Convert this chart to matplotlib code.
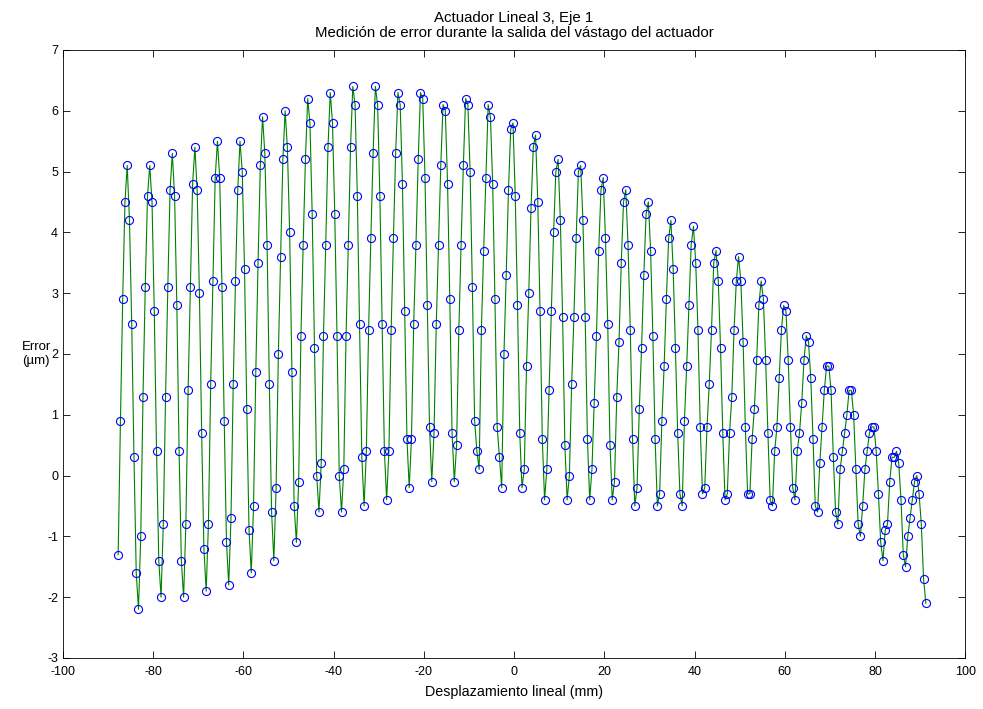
import matplotlib.pyplot as plt
import numpy as np

plt.rcParams['font.family'] = ['Liberation Sans', 'DejaVu Sans']
plt.rcParams['axes.unicode_minus'] = False

# error readings (um), one every 0.5 mm of stroke
error = [
    -1.3, 0.9, 2.9, 4.5, 5.1, 4.2, 2.5, 0.3, -1.6, -2.2,
    -1.0, 1.3, 3.1, 4.6, 5.1, 4.5, 2.7, 0.4, -1.4, -2.0,
    -0.8, 1.3, 3.1, 4.7, 5.3, 4.6, 2.8, 0.4, -1.4, -2.0,
    -0.8, 1.4, 3.1, 4.8, 5.4, 4.7, 3.0, 0.7, -1.2, -1.9,
    -0.8, 1.5, 3.2, 4.9, 5.5, 4.9, 3.1, 0.9, -1.1, -1.8,
    -0.7, 1.5, 3.2, 4.7, 5.5, 5.0, 3.4, 1.1, -0.9, -1.6,
    -0.5, 1.7, 3.5, 5.1, 5.9, 5.3, 3.8, 1.5, -0.6, -1.4,
    -0.2, 2.0, 3.6, 5.2, 6.0, 5.4, 4.0, 1.7, -0.5, -1.1,
    -0.1, 2.3, 3.8, 5.2, 6.2, 5.8, 4.3, 2.1, 0.0, -0.6,
    0.2, 2.3, 3.8, 5.4, 6.3, 5.8, 4.3, 2.3, 0.0, -0.6,
    0.1, 2.3, 3.8, 5.4, 6.4, 6.1, 4.6, 2.5, 0.3, -0.5,
    0.4, 2.4, 3.9, 5.3, 6.4, 6.1, 4.6, 2.5, 0.4, -0.4,
    0.4, 2.4, 3.9, 5.3, 6.3, 6.1, 4.8, 2.7, 0.6, -0.2,
    0.6, 2.5, 3.8, 5.2, 6.3, 6.2, 4.9, 2.8, 0.8, -0.1,
    0.7, 2.5, 3.8, 5.1, 6.1, 6.0, 4.8, 2.9, 0.7, -0.1,
    0.5, 2.4, 3.8, 5.1, 6.2, 6.1, 5.0, 3.1, 0.9, 0.4,
    0.1, 2.4, 3.7, 4.9, 6.1, 5.9, 4.8, 2.9, 0.8, 0.3,
    -0.2, 2.0, 3.3, 4.7, 5.7, 5.8, 4.6, 2.8, 0.7, -0.2,
    0.1, 1.8, 3.0, 4.4, 5.4, 5.6, 4.5, 2.7, 0.6, -0.4,
    0.1, 1.4, 2.7, 4.0, 5.0, 5.2, 4.2, 2.6, 0.5, -0.4,
    0.0, 1.5, 2.6, 3.9, 5.0, 5.1, 4.2, 2.6, 0.6, -0.4,
    0.1, 1.2, 2.3, 3.7, 4.7, 4.9, 3.9, 2.5, 0.5, -0.4,
    -0.1, 1.3, 2.2, 3.5, 4.5, 4.7, 3.8, 2.4, 0.6, -0.5,
    -0.2, 1.1, 2.1, 3.3, 4.3, 4.5, 3.7, 2.3, 0.6, -0.5,
    -0.3, 0.9, 1.8, 2.9, 3.9, 4.2, 3.4, 2.1, 0.7, -0.3,
    -0.5, 0.9, 1.8, 2.8, 3.8, 4.1, 3.5, 2.4, 0.8, -0.3,
    -0.2, 0.8, 1.5, 2.4, 3.5, 3.7, 3.2, 2.1, 0.7, -0.4,
    -0.3, 0.7, 1.3, 2.4, 3.2, 3.6, 3.2, 2.2, 0.8, -0.3,
    -0.3, 0.6, 1.1, 1.9, 2.8, 3.2, 2.9, 1.9, 0.7, -0.4,
    -0.5, 0.4, 0.8, 1.6, 2.4, 2.8, 2.7, 1.9, 0.8, -0.2,
    -0.4, 0.4, 0.7, 1.2, 1.9, 2.3, 2.2, 1.6, 0.6, -0.5,
    -0.6, 0.2, 0.8, 1.4, 1.8, 1.8, 1.4, 0.3, -0.6, -0.8,
    0.1, 0.4, 0.7, 1.0, 1.4, 1.4, 1.0, 0.1, -0.8, -1.0,
    -0.5, 0.1, 0.4, 0.7, 0.8, 0.8, 0.4, -0.3, -1.1, -1.4,
    -0.9, -0.8, -0.1, 0.3, 0.3, 0.4, 0.2, -0.4, -1.3, -1.5,
    -1.0, -0.7, -0.4, -0.1, 0.0, -0.3, -0.8, -1.7, -2.1,
]
x_first, x_step = -87.75, 0.5
pos = x_first + x_step * np.arange(len(error))

fig = plt.figure(figsize=(9.83, 7.09), dpi=100)
ax = fig.add_axes([0.064, 0.072, 0.918, 0.8575])

ax.plot(pos, error, color='#008000', lw=0.8)
ax.plot(pos, error, 'o', mfc='none', mec='#0000ff', mew=0.8, ms=5.8)

ax.set_xlim(-100, 100)
ax.set_ylim(-3, 7)
ax.set_xticks(np.arange(-100, 101, 20))
ax.set_yticks(np.arange(-3, 8, 1))
ax.tick_params(direction='in', top=True, right=True, labelsize=9, length=5, width=0.6)
ax.tick_params(axis='x', pad=6)
for s in ax.spines.values():
    s.set_linewidth(0.6)

ax.set_title('Actuador Lineal 3, Eje 1\nMedición de error durante la salida del vástago del actuador',
             fontsize=10.8, pad=9, linespacing=1.15)
ax.set_xlabel('Desplazamiento lineal (mm)', fontsize=10.3, labelpad=5)
ax.set_ylabel('Error\n(µm)', fontsize=9.5, rotation=0, ha='left', va='center')
ax.yaxis.set_label_coords(-0.045, 0.5)

fig.savefig('out.png', dpi=100)
